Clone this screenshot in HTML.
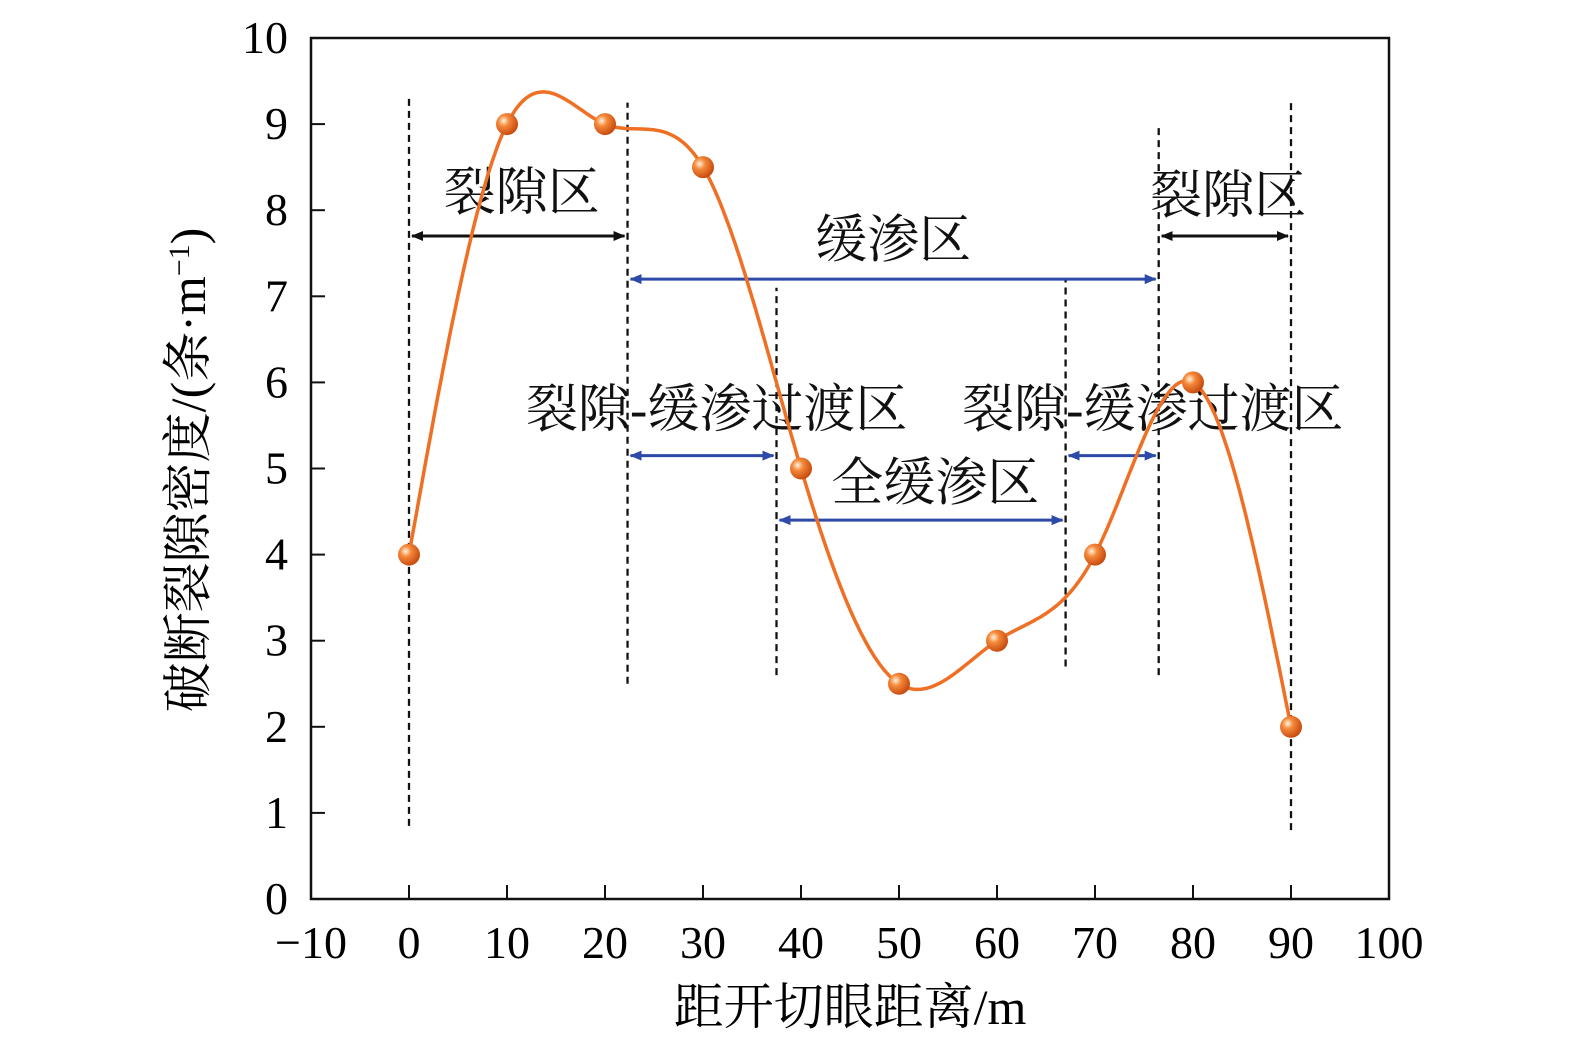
<!DOCTYPE html>
<html><head><meta charset="utf-8"><style>
html,body{margin:0;padding:0;background:#fff;}
svg text{font-family:"Liberation Serif","Noto Serif CJK SC",serif;}
</style></head><body>
<svg id="chart" width="1575" height="1053" xmlns="http://www.w3.org/2000/svg">
<defs>
<radialGradient id="ball" cx="0.35" cy="0.35" r="0.7">
<stop offset="0" stop-color="#fff3e0"/><stop offset="0.35" stop-color="#f5893a"/><stop offset="1" stop-color="#c4470c"/>
</radialGradient>
<marker id="ab" markerWidth="12" markerHeight="12" refX="11" refY="6" orient="auto-start-reverse" markerUnits="userSpaceOnUse" viewBox="0 0 12 12"><path d="M0,1 L12,6 L0,11 Z" fill="#111"/></marker>
<marker id="au" markerWidth="12" markerHeight="12" refX="11" refY="6" orient="auto-start-reverse" markerUnits="userSpaceOnUse" viewBox="0 0 12 12"><path d="M0,1 L12,6 L0,11 Z" fill="#2d4aa8"/></marker>
</defs>
<g id="layer"></g>
</svg>
<script>
const xVals=[0,10,20,30,40,50,60,70,80,90];
const yVals=[4,9,9,8.5,5,2.5,3,4,6,2];
const xTicks=[-10,0,10,20,30,40,50,60,70,80,90,100];
const yTicks=[0,1,2,3,4,5,6,7,8,9,10];
const dividers=[[0,0.85,9.35],[22.3,2.5,9.25],[37.5,2.6,7.1],[67,2.7,7.2],[76.5,2.6,9.0],[90,0.8,9.3]];
const arrows=[[0,22.3,7.7,'k'],[22.3,76.5,7.2,'b'],[22.3,37.5,5.15,'b'],[37.5,67,4.4,'b'],[67,76.5,5.15,'b'],[76.5,90,7.7,'k']];
const labels=[["裂隙区",11.5,8.0],["缓渗区",49.4,7.45],["裂隙区",83.6,7.97],["裂隙-缓渗过渡区",31.4,5.48],["裂隙-缓渗过渡区",75.9,5.48],["全缓渗区",53.7,4.63]];
const NS="http://www.w3.org/2000/svg";
const X=v=>311+(v+10)*(1078/110);
const Y=v=>899-v*86.1;
const g=document.getElementById('layer');
function mk(t,a,p){const e=document.createElementNS(NS,t);for(const k in a)e.setAttribute(k,a[k]);(p||g).appendChild(e);return e;}
let fr=mk('rect',{x:311,y:38,width:1078,height:861,fill:'none',stroke:'#111','stroke-width':2.5});


yTicks.forEach(v=>{
 let l=mk('line',{x1:311,x2:325,y1:Y(v),y2:Y(v),stroke:'#111','stroke-width':2});
 
 
 let t=mk('text',{x:288,y:Y(v)+15,'text-anchor':'end','font-size':46});t.textContent=v;
 
 
});
xTicks.forEach(v=>{
 let l=mk('line',{x1:X(v),x2:X(v),y1:899,y2:885,stroke:'#111','stroke-width':2});
 
 
 let t=mk('text',{x:X(v),y:958,'text-anchor':'middle','font-size':46});t.textContent=(v<0?'\u2212'+(-v):v);
 
 
});
dividers.forEach(d=>{
 let l=mk('line',{x1:X(d[0]),x2:X(d[0]),y1:Y(d[1]),y2:Y(d[2]),stroke:'#111','stroke-width':2.3,'stroke-dasharray':'7,5'});
 
 
});
arrows.forEach(a=>{
 const c=a[3]=='k'?'#111':'#2d4aa8',m=a[3]=='k'?'url(#ab)':'url(#au)';
 let l=mk('line',{x1:X(a[0])+3,x2:X(a[1])-3,y1:Y(a[2]),y2:Y(a[2]),stroke:c,'stroke-width':3,'marker-start':m,'marker-end':m});
 
 
});
labels.forEach(s=>{
 let t=mk('text',{x:X(s[1]),y:Y(s[2]),'text-anchor':'middle','font-size':52,fill:'#111'});t.textContent=s[0];
 
 
});
const n=xVals.length,h=[],al=[0],l=[1],mu=[0],z=[0],c=new Array(n).fill(0),b=[],d=[];
for(let i=0;i<n-1;i++)h.push(xVals[i+1]-xVals[i]);
for(let i=1;i<n-1;i++)al.push(3/h[i]*(yVals[i+1]-yVals[i])-3/h[i-1]*(yVals[i]-yVals[i-1]));
for(let i=1;i<n-1;i++){l[i]=2*(xVals[i+1]-xVals[i-1])-h[i-1]*mu[i-1];mu[i]=h[i]/l[i];z[i]=(al[i]-h[i-1]*z[i-1])/l[i];}
for(let j=n-2;j>=0;j--){c[j]=z[j]-mu[j]*c[j+1];b[j]=(yVals[j+1]-yVals[j])/h[j]-h[j]*(c[j+1]+2*c[j])/3;d[j]=(c[j+1]-c[j])/(3*h[j]);}
let p='';
for(let i=0;i<n-1;i++)for(let k=0;k<=40;k++){const t=h[i]*k/40,y=yVals[i]+b[i]*t+c[i]*t*t+d[i]*t*t*t;p+=(p?'L':'M')+X(xVals[i]+t).toFixed(1)+','+Y(y).toFixed(1);}
let cv=mk('path',{d:p,fill:'none',stroke:'#ef6f24','stroke-width':3.5});


xVals.forEach((x,i)=>{
 let m=mk('circle',{cx:X(x),cy:Y(yVals[i]),r:11,fill:'url(#ball)'});
 
 
});
let xt=mk('text',{x:850,y:1024,'text-anchor':'middle','font-size':50});xt.textContent='距开切眼距离/m';


let yt=mk('text',{x:0,y:0,'text-anchor':'middle','font-size':50,transform:'translate(205,470) rotate(-90)'});
yt.innerHTML='破断裂隙密度/(条·m<tspan baseline-shift="super" font-size="30">−1</tspan>)';


</script>
</body></html>
